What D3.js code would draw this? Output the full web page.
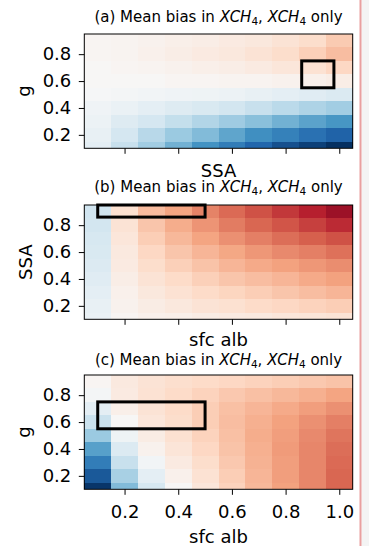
<!DOCTYPE html>
<html lang="en">
<head>
<meta charset="UTF-8">
<title>Mean bias in XCH4</title>
<style>
    body { margin: 0; background: #fff; }
    svg { display: block; font-family: "DejaVu Sans", sans-serif; }
    .tick line { stroke: #000; }
    .frame { fill: none; stroke: #000; stroke-width: 1; }
    .box { fill: none; stroke: #000; stroke-width: 3; }
    .title { font-size: 15px; }
    .label { font-size: 18px; }
</style>
</head>
<body>
<script src="https://d3js.org/d3.v7.min.js"></script>
<script>

// grid: columns (x) and rows (y, listed top to bottom)
var cols = [0.1, 0.2, 0.3, 0.4, 0.5, 0.6, 0.7, 0.8, 0.9, 1.0];
var rows = [0.9, 0.8, 0.7, 0.6, 0.5, 0.4, 0.3, 0.2, 0.1];
var xTicks = [0.2, 0.4, 0.6, 0.8, 1.0];
var yTicks = [0.2, 0.4, 0.6, 0.8];

// (a) g (rows) vs SSA (cols), normalised bias
var biasA = [
    [0.02, 0.03, 0.04, 0.06, 0.07, 0.09, 0.11, 0.14, 0.18, 0.26],
    [0.02, 0.03, 0.05, 0.07, 0.09, 0.11, 0.14, 0.18, 0.24, 0.31],
    [0.01, 0.02, 0.03, 0.04, 0.06, 0.07, 0.09, 0.12, 0.15, 0.21],
    [0.01, 0.01, 0.01, 0.02, 0.02, 0.03, 0.03, 0.04, 0.05, 0.07],
    [-0.01, -0.02, -0.03, -0.04, -0.05, -0.06, -0.08, -0.10, -0.12, -0.15],
    [-0.04, -0.07, -0.10, -0.13, -0.16, -0.19, -0.23, -0.27, -0.31, -0.35],
    [-0.06, -0.13, -0.18, -0.24, -0.30, -0.36, -0.42, -0.48, -0.54, -0.59],
    [-0.08, -0.18, -0.28, -0.37, -0.44, -0.53, -0.62, -0.68, -0.75, -0.81],
    [-0.10, -0.23, -0.35, -0.48, -0.60, -0.70, -0.80, -0.88, -0.94, -1.00]
];

// (b) SSA (rows) vs sfc alb (cols)
var biasB = [
    [-0.20, 0.16, 0.32, 0.40, 0.50, 0.57, 0.64, 0.71, 0.78, 0.86],
    [-0.19, 0.14, 0.28, 0.37, 0.45, 0.52, 0.58, 0.63, 0.69, 0.75],
    [-0.17, 0.12, 0.25, 0.33, 0.40, 0.46, 0.51, 0.56, 0.60, 0.64],
    [-0.16, 0.10, 0.21, 0.28, 0.34, 0.39, 0.44, 0.48, 0.51, 0.55],
    [-0.14, 0.09, 0.18, 0.24, 0.29, 0.34, 0.38, 0.41, 0.44, 0.47],
    [-0.12, 0.07, 0.14, 0.19, 0.24, 0.28, 0.31, 0.34, 0.38, 0.41],
    [-0.10, 0.05, 0.11, 0.15, 0.19, 0.22, 0.25, 0.28, 0.31, 0.34],
    [-0.08, 0.04, 0.08, 0.11, 0.14, 0.16, 0.19, 0.21, 0.23, 0.25],
    [-0.07, 0.02, 0.05, 0.06, 0.08, 0.09, 0.10, 0.12, 0.13, 0.14]
];

// (c) g (rows) vs sfc alb (cols)
var biasC = [
    [0.02, 0.10, 0.14, 0.17, 0.19, 0.21, 0.23, 0.25, 0.27, 0.29],
    [-0.02, 0.09, 0.15, 0.19, 0.23, 0.27, 0.30, 0.33, 0.36, 0.40],
    [-0.10, 0.06, 0.14, 0.19, 0.25, 0.30, 0.34, 0.38, 0.42, 0.46],
    [-0.22, 0.01, 0.12, 0.18, 0.25, 0.31, 0.36, 0.41, 0.46, 0.51],
    [-0.37, -0.05, 0.08, 0.16, 0.23, 0.30, 0.37, 0.42, 0.48, 0.54],
    [-0.55, -0.14, 0.04, 0.13, 0.21, 0.29, 0.36, 0.43, 0.49, 0.56],
    [-0.70, -0.23, -0.03, 0.09, 0.18, 0.27, 0.35, 0.42, 0.49, 0.57],
    [-0.85, -0.33, -0.10, 0.05, 0.15, 0.25, 0.34, 0.42, 0.49, 0.58],
    [-0.98, -0.44, -0.17, 0.01, 0.12, 0.23, 0.33, 0.41, 0.49, 0.58]
];

// highlighted regions [x0, x1, y0, y1]
var boxA = [0.86, 0.98, 0.55, 0.75];
var boxB = [0.10, 0.50, 0.86, 0.98];
var boxC = [0.10, 0.50, 0.55, 0.75];

var W = 369, H = 546;
var left = 84.3, right = 352.7, ph = 114.3;

var panels = [
    {tag: "(a)", data: biasA, box: boxA, top: 34, xlab: "SSA", ylab: "g",
     titleY: 22, xlabY: 177, ylabX: 29.6, tickLabels: false},
    {tag: "(b)", data: biasB, box: boxB, top: 205, xlab: "sfc alb", ylab: "SSA",
     titleY: 192, xlabY: 346, ylabX: 31.5, tickLabels: false},
    {tag: "(c)", data: biasC, box: boxC, top: 375, xlab: "sfc alb", ylab: "g",
     titleY: 364.5, xlabY: 543, ylabX: 29.6, tickLabels: true}
];

// RdBu reversed: +1 dark red, -1 dark blue
var color = d3.scaleLinear()
    .domain(d3.range(11).map(function(i) { return 1 - i * 0.2; }))
    .range(d3.schemeRdBu[11])
    .clamp(true);

var svg = d3.select("body").append("svg")
    .attr("width", W)
    .attr("height", H);

// strip on the right edge of the figure
svg.append("rect")
    .attr("x", 361.5).attr("y", 0)
    .attr("width", W - 361.5).attr("height", H)
    .attr("fill", "#f4f4f4");
svg.append("line")
    .attr("x1", 360.5).attr("x2", 360.5)
    .attr("y1", 0).attr("y2", H)
    .attr("stroke", "#e9a0a0")
    .attr("stroke-width", 2);

panels.forEach(function(p) {
    var x = d3.scaleLinear().domain([0.05, 1.05]).range([left, right]).clamp(true);
    var y = d3.scaleLinear().domain([0.1, 0.95]).range([p.top + ph, p.top]).clamp(true);

    var g = svg.append("g");

    // cells
    var cells = [];
    p.data.forEach(function(row, i) {
        row.forEach(function(v, j) {
            cells.push({x: cols[j], y: rows[i], v: v});
        });
    });

    g.selectAll(".cell")
        .data(cells)
        .enter().append("rect")
        .attr("class", "cell")
        .attr("x", function(d) { return x(d.x - 0.05); })
        .attr("width", function(d) { return x(d.x + 0.05) - x(d.x - 0.05); })
        .attr("y", function(d) { return y(d.y + 0.05); })
        .attr("height", function(d) { return y(d.y - 0.05) - y(d.y + 0.05); })
        .attr("fill", function(d) { return color(d.v); })
        .attr("shape-rendering", "crispEdges");

    // axes
    var xAxis = d3.axisBottom(x)
        .tickValues(xTicks)
        .tickSize(5.5)
        .tickSizeOuter(0)
        .tickPadding(10)
        .tickFormat(p.tickLabels ? d3.format(".1f") : "");
    var ax = g.append("g")
        .attr("transform", "translate(0," + (p.top + ph) + ")")
        .call(xAxis);
    ax.select(".domain").remove();
    ax.selectAll("text")
        .style("font-family", "'DejaVu Sans', sans-serif")
        .style("font-size", "18px")
        .style("fill", "#000");

    var yAxis = d3.axisLeft(y)
        .tickValues(yTicks)
        .tickSize(5.5)
        .tickSizeOuter(0)
        .tickPadding(7.5)
        .tickFormat(d3.format(".1f"));
    var ay = g.append("g")
        .attr("transform", "translate(" + left + ",0)")
        .call(yAxis);
    ay.select(".domain").remove();
    ay.selectAll("text")
        .style("font-family", "'DejaVu Sans', sans-serif")
        .style("font-size", "18px")
        .style("fill", "#000");

    // frame
    g.append("rect")
        .attr("class", "frame")
        .attr("x", left).attr("y", p.top)
        .attr("width", right - left).attr("height", ph);

    // highlighted region
    var b = p.box;
    g.append("rect")
        .attr("class", "box")
        .attr("x", x(b[0]))
        .attr("y", y(b[3]))
        .attr("width", x(b[1]) - x(b[0]))
        .attr("height", y(b[2]) - y(b[3]));

    // title
    var t = g.append("text")
        .attr("class", "title")
        .attr("x", (left + right) / 2)
        .attr("y", p.titleY)
        .attr("text-anchor", "middle");
    t.append("tspan").text(p.tag + " Mean bias in ");
    t.append("tspan").attr("font-style", "italic").text("XCH");
    t.append("tspan").attr("font-size", "10.5px").attr("dy", 3).text("4");
    t.append("tspan").attr("dy", -3).text(", ");
    t.append("tspan").attr("font-style", "italic").text("XCH");
    t.append("tspan").attr("font-size", "10.5px").attr("dy", 3).text("4");
    t.append("tspan").attr("dy", -3).text(" only");

    // axis labels
    g.append("text")
        .attr("class", "label")
        .attr("x", (left + right) / 2)
        .attr("y", p.xlabY)
        .attr("text-anchor", "middle")
        .text(p.xlab);

    g.append("text")
        .attr("class", "label")
        .attr("transform", "translate(" + p.ylabX + "," + (p.top + ph / 2) + ") rotate(-90)")
        .attr("text-anchor", "middle")
        .text(p.ylab);
});

</script>
</body>
</html>
